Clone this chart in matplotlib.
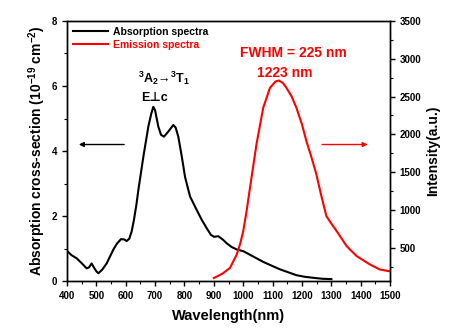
import matplotlib
matplotlib.use("Agg")
import matplotlib.pyplot as plt
from matplotlib.ticker import MultipleLocator

plt.rcParams['font.family'] = ['Liberation Sans', 'DejaVu Sans']
plt.rcParams['font.weight'] = 'bold'
plt.rcParams['mathtext.fontset'] = 'custom'
plt.rcParams['mathtext.rm'] = 'Liberation Sans:bold'
plt.rcParams['mathtext.bf'] = 'Liberation Sans:bold'
plt.rcParams['mathtext.it'] = 'Liberation Sans:bold'
plt.rcParams['mathtext.default'] = 'bf'

abs_wl = [400, 415, 433, 450, 467, 475, 484, 493, 500, 507, 520, 535, 558, 570, 584, 595,
          603, 612, 620, 628, 637, 643, 660, 677, 687, 694, 700, 711, 720, 730, 745, 762,
          770, 779, 791, 802, 819, 842, 859, 876, 890, 901, 915, 930, 944, 960, 978, 1000,
          1035, 1068, 1100, 1125, 1150, 1181, 1210, 1238, 1270, 1300]
abs_val = [0.93, 0.80, 0.70, 0.55, 0.39, 0.42, 0.54, 0.40, 0.30, 0.24, 0.35, 0.54, 0.97, 1.15,
           1.29, 1.28, 1.23, 1.30, 1.52, 1.88, 2.39, 2.80, 3.82, 4.75, 5.15, 5.36, 5.25, 4.75,
           4.50, 4.44, 4.60, 4.80, 4.72, 4.44, 3.82, 3.20, 2.60, 2.18, 1.88, 1.62, 1.42, 1.36,
           1.38, 1.28, 1.16, 1.05, 0.97, 0.92, 0.75, 0.59, 0.46, 0.36, 0.28, 0.18, 0.13, 0.10,
           0.07, 0.06]

em_wl = [900, 930, 955, 978, 990, 1000, 1012, 1023, 1045, 1068, 1091, 1110, 1121, 1135,
         1147, 1165, 1181, 1200, 1215, 1232, 1249, 1265, 1283, 1300, 1318, 1352, 1386,
         1431, 1465, 1497]
em_val = [100, 160, 235, 412, 560, 720, 1000, 1294, 1867, 2352, 2616, 2700, 2713, 2680,
          2616, 2500, 2352, 2130, 1911, 1700, 1470, 1200, 919, 820, 720, 522, 390, 280,
          213, 190]

fig = plt.figure(figsize=(4.65, 3.33), dpi=100)
ax = fig.add_axes([0.144, 0.156, 0.695, 0.781])
ax2 = ax.twinx()

l1, = ax.plot(abs_wl, abs_val, color='black', lw=1.5, label='Absorption spectra')
l2, = ax2.plot(em_wl, em_val, color='red', lw=1.5, label='Emission spectra')

ax.set_xlim(400, 1500)
ax.set_ylim(0, 8)

ax.xaxis.set_major_locator(MultipleLocator(100))
ax.xaxis.set_minor_locator(MultipleLocator(50))
ax.yaxis.set_major_locator(MultipleLocator(2))
ax.yaxis.set_minor_locator(MultipleLocator(1))
ax2.yaxis.set_major_locator(MultipleLocator(500))
ax2.yaxis.set_minor_locator(MultipleLocator(250))

for a in (ax, ax2):
    a.tick_params(which='major', direction='out', length=3.5, width=1, labelsize=7)
    a.tick_params(which='minor', direction='out', length=2, width=0.8)
    for s in a.spines.values():
        s.set_linewidth(1)
ax2.set_yticks([500, 1000, 1500, 2000, 2500, 3000, 3500])
ax2.set_ylim(60, 3500)

ax.set_xlabel('Wavelength(nm)', fontsize=10.5, fontweight='bold', labelpad=6)
ax.set_ylabel(r'Absorption cross-section (10$^{-19}$ cm$^{-2}$)', fontsize=10, fontweight='bold', labelpad=3)
ax2.set_ylabel('Intensity(a.u.)', fontsize=10, fontweight='bold', labelpad=3)

leg = ax.legend(handles=[l1, l2], loc='upper left', frameon=False, fontsize=7.5,
                handlelength=3.4, handletextpad=0.5, labelspacing=0.3,
                borderaxespad=0.15, labelcolor='linecolor')

ax.text(0.3, 0.78, r'$^3$A$_2$' + '\u2192' + r'$^3$T$_1$', transform=ax.transAxes,
        ha='center', va='center', fontsize=9, fontweight='bold')
ax.text(0.27, 0.705, 'E\u22a5c', transform=ax.transAxes, ha='center', va='center',
        fontsize=9, fontweight='bold')
ax.text(0.70, 0.875, 'FWHM = 225 nm', transform=ax.transAxes, ha='center', va='center',
        fontsize=10, fontweight='bold', color='red')
ax.text(0.675, 0.80, '1223 nm', transform=ax.transAxes, ha='center', va='center',
        fontsize=10, fontweight='bold', color='red')

ax.annotate('', xy=(431, 4.2), xytext=(604, 4.2),
            arrowprops=dict(arrowstyle='-|>', color='black', lw=1, mutation_scale=7))
ax.annotate('', xy=(1433, 4.2), xytext=(1259, 4.2),
            arrowprops=dict(arrowstyle='-|>', color='red', lw=1, mutation_scale=7))

fig.savefig('out.png', dpi=100)
